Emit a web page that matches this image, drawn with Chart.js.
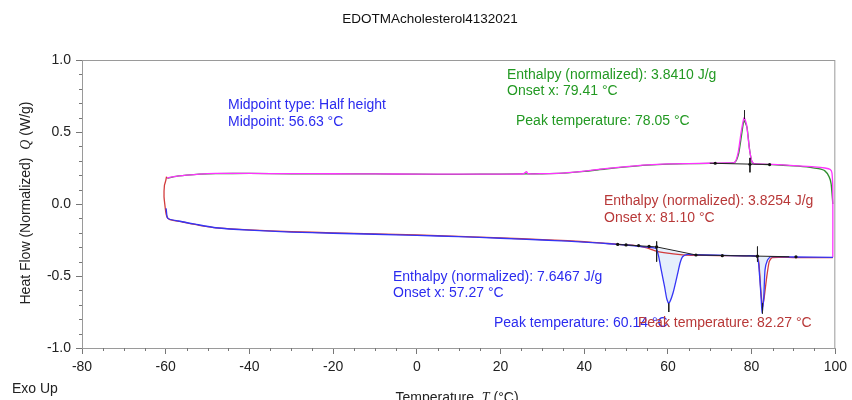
<!DOCTYPE html>
<html>
<head>
<meta charset="utf-8">
<script src="https://cdn.jsdelivr.net/npm/chart.js@4.4.1/dist/chart.umd.min.js"></script>
<style>
  html, body { margin: 0; padding: 0; background: #fff; }
  canvas { display: block; }
</style>
</head>
<body>
<canvas id="dscChart" width="852" height="400"></canvas>
<script>
'use strict';

// magenta trace (upper, with exo peak near 78 C)
var magentaT = [-59.7, -58, -55, -52, -48, -40, -30, -20, -10, 0, 10, 20, 25.5, 26.2, 26.6, 30, 35, 40, 45, 50, 55, 60, 65, 70, 74, 76, 76.8, 77.5, 78.2, 78.8, 79.4, 80, 80.6, 85, 90, 95, 97.5, 98.8, 99.2, 99.4, 99.4];
var magentaQ = [0.18, 0.19, 0.2, 0.208, 0.212, 0.212, 0.211, 0.21, 0.209, 0.208, 0.207, 0.208, 0.21, 0.225, 0.21, 0.211, 0.215, 0.228, 0.245, 0.26, 0.272, 0.279, 0.281, 0.283, 0.285, 0.29, 0.36, 0.5, 0.6, 0.55, 0.4, 0.3, 0.28, 0.275, 0.267, 0.258, 0.25, 0.24, 0.215, 0.1, -0.37];

// green trace (upper)
var greenT = [-59.6, -58, -55, -52, -48, -40, -30, -20, -10, 0, 10, 20, 30, 35, 40, 45, 50, 55, 60, 65, 70, 74, 76, 76.9, 77.6, 78.2, 78.9, 79.5, 80.1, 80.7, 85, 90, 94, 96, 97.5, 98.5, 99, 99.4];
var greenQ = [0.178, 0.19, 0.2, 0.207, 0.211, 0.212, 0.21, 0.209, 0.209, 0.207, 0.206, 0.208, 0.21, 0.214, 0.226, 0.243, 0.258, 0.27, 0.277, 0.28, 0.282, 0.284, 0.29, 0.35, 0.48, 0.58, 0.53, 0.38, 0.29, 0.279, 0.273, 0.265, 0.255, 0.245, 0.23, 0.19, 0.14, 0.0];

// red trace (left return and lower)
var redT = [-59.8, -60.0, -60.3, -60.4, -60.1, -59.9, -59.6, -59, -56, -52, -47, -40, -30, -20, -10, 0, 10, 20, 30, 36, 40, 44, 48, 51.5, 55, 56.8, 59, 63.5, 66, 72, 78, 81.1, 81.7, 82.2, 82.6, 83.0, 83.6, 84.2, 84.9, 90, 99.4];
var redQ = [0.19, 0.16, 0.13, 0.05, -0.03, -0.07, -0.095, -0.108, -0.125, -0.148, -0.168, -0.18, -0.192, -0.2, -0.208, -0.215, -0.225, -0.235, -0.248, -0.255, -0.262, -0.27, -0.28, -0.285, -0.305, -0.324, -0.338, -0.354, -0.356, -0.358, -0.36, -0.362, -0.4, -0.6, -0.713, -0.65, -0.51, -0.4, -0.372, -0.372, -0.372];

// blue trace (lower, with endo peaks near 60 C and 82 C)
var blueT = [-59.9, -59.5, -57, -53, -48, -40, -30, -20, -10, 0, 10, 20, 30, 36, 40, 44, 48, 52, 55, 57.2, 57.8, 58.4, 59.2, 59.7, 60.2, 61.2, 62.35, 62.9, 63.5, 64.7, 66, 72, 78, 81.3, 81.85, 82.25, 82.5, 82.9, 83.2, 83.8, 84.6, 90, 99.4];
var blueQ = [-0.03, -0.1, -0.118, -0.14, -0.165, -0.182, -0.195, -0.203, -0.21, -0.218, -0.227, -0.238, -0.25, -0.258, -0.265, -0.272, -0.28, -0.29, -0.3, -0.31, -0.366, -0.458, -0.574, -0.655, -0.69, -0.62, -0.48, -0.41, -0.366, -0.35, -0.352, -0.356, -0.36, -0.366, -0.48, -0.644, -0.757, -0.65, -0.458, -0.389, -0.366, -0.368, -0.37];

// shaded endotherm areas
var peak1T = [57.2, 57.8, 58.4, 59.2, 59.7, 60.2, 61.2, 62.35, 62.9, 63.5, 64.7];
var peak1Q = [-0.3, -0.366, -0.458, -0.574, -0.655, -0.69, -0.62, -0.48, -0.41, -0.366, -0.35];
var peak2T = [81.3, 81.85, 82.25, 82.5, 82.9, 83.2, 83.8, 84.6];
var peak2Q = [-0.362, -0.48, -0.644, -0.757, -0.65, -0.458, -0.389, -0.366];

// integration baselines and markers (null = break)
var baseT = [70, 84.3, null, 79.6, 79.6, null, 78.3, 78.3, null, 47.5, 57.3, 66.7, 89, null, 57.3, 57.3, null, 81.4, 81.4, null, 60.2, 60.2, null, 82.6, 82.6];
var baseQ = [0.283, 0.274, null, 0.32, 0.22, null, 0.65, 0.59, null, -0.28, -0.298, -0.354, -0.366, null, -0.26, -0.40, null, -0.296, -0.40, null, -0.69, -0.75, null, -0.69, -0.76];
var dotT = [71.3, 79.6, 84.3, 48, 50, 53, 55.5, 57.3, 66.7, 73, 81.4, 90.6];
var dotQ = [0.283, 0.276, 0.274, -0.281, -0.284, -0.289, -0.294, -0.298, -0.354, -0.359, -0.362, -0.367];

var xTicks = [-80, 100, 20, 5];
var yTicks = [-1, 1, 0.5, 0.1];

var notes = [
  { text: 'Midpoint type: Half height', x: 228, y: 105, color: '#2b2bef' },
  { text: 'Midpoint: 56.63 \u00b0C', x: 228, y: 122, color: '#2b2bef' },
  { text: 'Enthalpy (normalized): 3.8410 J/g', x: 507, y: 75, color: '#229922' },
  { text: 'Onset x: 79.41 \u00b0C', x: 507, y: 91, color: '#229922' },
  { text: 'Peak temperature: 78.05 \u00b0C', x: 516, y: 121, color: '#229922' },
  { text: 'Enthalpy (normalized): 3.8254 J/g', x: 604, y: 201, color: '#b83838' },
  { text: 'Onset x: 81.10 \u00b0C', x: 604, y: 218, color: '#b83838' },
  { text: 'Enthalpy (normalized): 7.6467 J/g', x: 393, y: 277, color: '#2b2bef' },
  { text: 'Onset x: 57.27 \u00b0C', x: 393, y: 293, color: '#2b2bef' },
  { text: 'Peak temperature: 60.14 \u00b0C', x: 494, y: 323, color: '#2b2bef' },
  { text: 'Peak temperature: 82.27 \u00b0C', x: 638, y: 323, color: '#b83838' }
];

var FONT = '"Liberation Sans", Arial, sans-serif';
var ITALIC = 'italic 14px "Liberation Serif", serif';

function pts(xs, ys) {
  return xs.map(function(x, i) { return { x: x, y: ys[i] }; });
}

// draws plain + italic symbol + plain text as one run, centred on 0
function mixedText(ctx, parts, y) {
  var widths = parts.map(function(p, i) {
    ctx.font = i === 1 ? ITALIC : '14px ' + FONT;
    return ctx.measureText(p).width;
  });
  var x = -(widths[0] + widths[1] + widths[2]) / 2;
  parts.forEach(function(p, i) {
    ctx.font = i === 1 ? ITALIC : '14px ' + FONT;
    ctx.fillText(p, x, y);
    x += widths[i];
  });
}

var framePlugin = {
  id: 'frame',
  beforeDatasetsDraw: function(chart) {
    var a = chart.chartArea, ctx = chart.ctx;
    var sx = chart.scales.x, sy = chart.scales.y;
    ctx.save();
    ctx.strokeStyle = '#9a9a9a';
    ctx.lineWidth = 1;
    ctx.strokeRect(a.left + 0.5, a.top + 0.5, a.right - a.left - 1, a.bottom - a.top);
    // minor ticks
    ctx.strokeStyle = '#777';
    ctx.beginPath();
    for (var v = xTicks[0]; v <= xTicks[1]; v += xTicks[3]) {
      if (Math.abs(v % xTicks[2]) < 1e-6) continue;
      var px = Math.round(sx.getPixelForValue(v)) + 0.5;
      ctx.moveTo(px, a.bottom);
      ctx.lineTo(px, a.bottom + 3);
    }
    for (var k = 0; k <= 20; k++) {
      var w = yTicks[0] + k * yTicks[3];
      if (k % 5 === 0) continue;
      var py = Math.round(sy.getPixelForValue(w)) + 0.5;
      ctx.moveTo(a.left - 3, py);
      ctx.lineTo(a.left, py);
    }
    ctx.stroke();
    ctx.restore();
  },
  afterDraw: function(chart) {
    var ctx = chart.ctx;
    ctx.save();
    ctx.textBaseline = 'middle';
    ctx.textAlign = 'center';
    ctx.fillStyle = '#111';
    ctx.font = '13.5px ' + FONT;
    ctx.fillText('EDOTMAcholesterol4132021', 430, 19);

    ctx.font = '14px ' + FONT;
    ctx.textAlign = 'left';
    notes.forEach(function(n) {
      ctx.fillStyle = n.color;
      ctx.fillText(n.text, n.x, n.y);
    });

    ctx.fillStyle = '#222';
    ctx.fillText('Exo Up', 12, 389);

    // x axis title, partly cut at the bottom edge
    ctx.save();
    ctx.translate(457, 0);
    ctx.textBaseline = 'top';
    mixedText(ctx, ['Temperature  ', 'T', ' (\u00b0C)'], 391);
    ctx.restore();

    // y axis title
    ctx.translate(26, 203);
    ctx.rotate(-Math.PI / 2);
    mixedText(ctx, ['Heat Flow (Normalized)  ', 'Q', ' (W/g)'], 0);
    ctx.restore();
  }
};

function line(data, color, order, width) {
  return {
    data: data,
    showLine: true,
    borderColor: color,
    backgroundColor: color,
    borderWidth: width || 1.3,
    pointRadius: 0,
    tension: 0.2,
    fill: false,
    spanGaps: false,
    order: order
  };
}

var datasets = [
  {
    data: pts(peak1T, peak1Q), showLine: true, fill: 'shape',
    backgroundColor: 'rgba(228, 238, 252, 0.95)', borderWidth: 0, pointRadius: 0, tension: 0.2, order: 10
  },
  {
    data: pts(peak2T, peak2Q), showLine: true, fill: 'shape',
    backgroundColor: 'rgba(228, 238, 252, 0.95)', borderWidth: 0, pointRadius: 0, tension: 0.2, order: 10
  },
  line(pts(greenT, greenQ), '#2f8f2f', 6),
  line(pts(magentaT, magentaQ), '#ff33ff', 5),
  line(pts(redT, redQ), '#d23c3c', 4),
  line(pts(blueT, blueQ), '#3535f5', 3),
  line(pts(baseT, baseQ), '#222', 2, 1),
  {
    data: pts(dotT, dotQ), showLine: false, pointRadius: 1.6,
    pointBackgroundColor: '#111', pointBorderWidth: 0, order: 1
  }
];
datasets[6].tension = 0;

var tickFont = { family: FONT, size: 14 };

new Chart(document.getElementById('dscChart').getContext('2d'), {
  type: 'scatter',
  data: { datasets: datasets },
  plugins: [framePlugin],
  options: {
    responsive: false,
    animation: false,
    devicePixelRatio: 1,
    layout: { padding: { top: 60, right: 16, left: 0, bottom: 0 } },
    plugins: { legend: { display: false }, tooltip: { enabled: false } },
    scales: {
      x: {
        type: 'linear', min: xTicks[0], max: xTicks[1],
        ticks: { stepSize: xTicks[2], font: tickFont, color: '#222', padding: 5 },
        grid: { display: true, drawOnChartArea: false, drawTicks: true, tickLength: 6, tickColor: '#777' },
        border: { display: true, color: '#9a9a9a' },
        afterFit: function(s) { s.height = 52; }
      },
      y: {
        type: 'linear', min: yTicks[0], max: yTicks[1],
        ticks: {
          stepSize: yTicks[2], font: tickFont, color: '#222', padding: 5,
          callback: function(v) { return Number(v).toFixed(1); }
        },
        grid: { display: true, drawOnChartArea: false, drawTicks: true, tickLength: 6, tickColor: '#777' },
        border: { display: true, color: '#9a9a9a' },
        afterFit: function(s) { s.width = 82; }
      }
    }
  }
});
</script>
</body>
</html>
